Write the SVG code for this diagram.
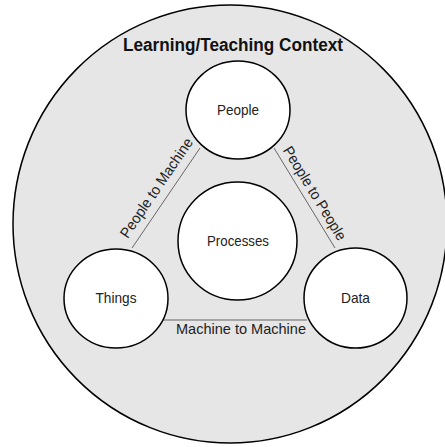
<svg xmlns="http://www.w3.org/2000/svg" width="445" height="447" viewBox="0 0 445 447">
<style>
.node{fill:#ffffff;stroke:#000;stroke-width:1.5}
.lbl{font-family:"Liberation Sans",Arial,sans-serif;font-size:15px;fill:#222;text-anchor:middle}
.edge{stroke:#666;stroke-width:1;fill:none}
</style>
<rect width="445" height="447" fill="#ffffff"/>
<g id="context">
<ellipse cx="230" cy="224" rx="217" ry="219" fill="#e6e6e6" stroke="#000" stroke-width="1.5"/>
<text x="233" y="51" font-family="Liberation Sans,Arial,sans-serif" font-weight="bold" font-size="18" text-anchor="middle" textLength="220" lengthAdjust="spacingAndGlyphs" fill="#111">Learning/Teaching Context</text>
</g>
<g id="connectors">
<line class="edge" x1="200" y1="148" x2="132" y2="248"/>
<line class="edge" x1="274" y1="148" x2="335" y2="248"/>
<line class="edge" x1="163" y1="320" x2="307" y2="320"/>
<text class="lbl" transform="translate(164,193) rotate(-55.8)" textLength="117" lengthAdjust="spacingAndGlyphs" y="-4">People to Machine</text>
<text class="lbl" transform="translate(307,198) rotate(58.6)" textLength="107" lengthAdjust="spacingAndGlyphs" y="-4">People to People</text>
<text class="lbl" x="241" y="334" textLength="130" lengthAdjust="spacingAndGlyphs">Machine to Machine</text>
</g>
<g id="people">
<ellipse class="node" cx="238" cy="110" rx="52" ry="49"/>
<text class="lbl" x="238" y="115" textLength="42" lengthAdjust="spacingAndGlyphs">People</text>
</g>
<g id="processes">
<ellipse class="node" cx="237.5" cy="241" rx="59.5" ry="59"/>
<text class="lbl" x="238" y="246" textLength="62" lengthAdjust="spacingAndGlyphs">Processes</text>
</g>
<g id="things">
<ellipse class="node" cx="116" cy="298.5" rx="52" ry="49.5"/>
<text class="lbl" x="116" y="303" textLength="41" lengthAdjust="spacingAndGlyphs">Things</text>
</g>
<g id="data">
<ellipse class="node" cx="355.5" cy="298" rx="51.5" ry="50"/>
<text class="lbl" x="355.5" y="303" textLength="29" lengthAdjust="spacingAndGlyphs">Data</text>
</g>
</svg>
